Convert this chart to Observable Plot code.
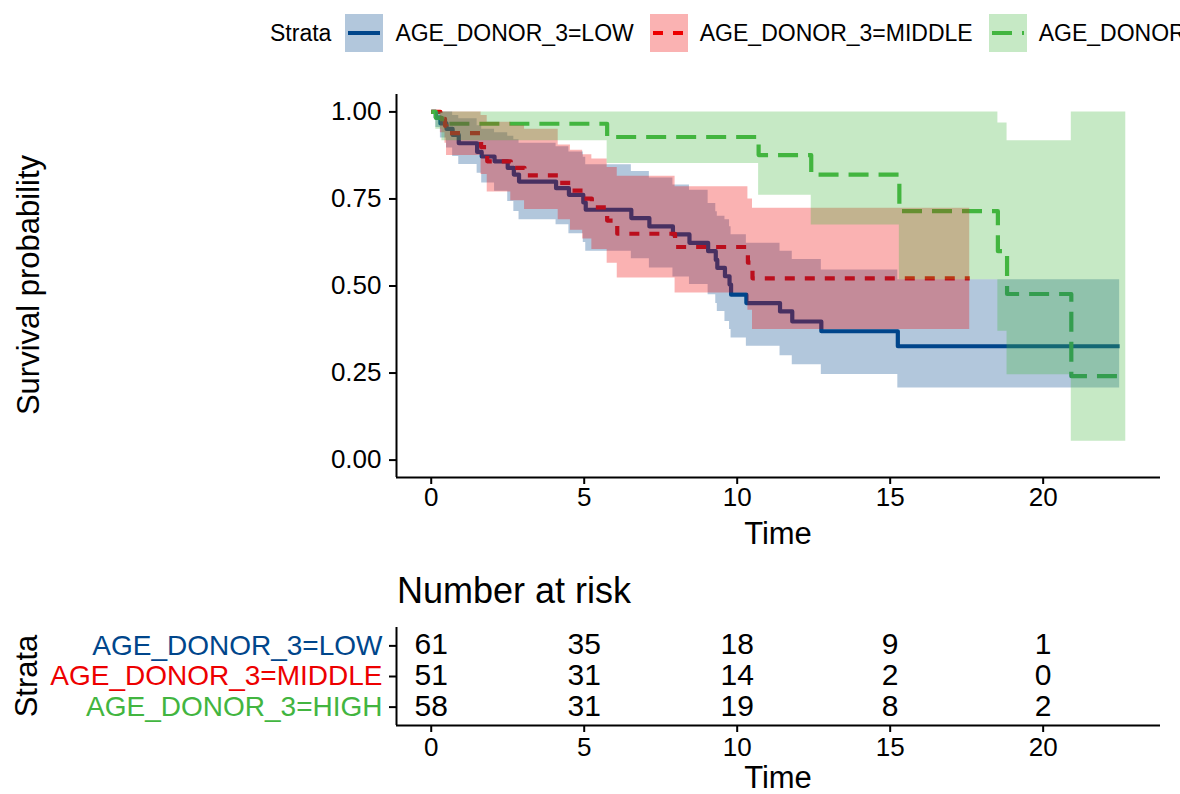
<!DOCTYPE html>
<html>
<head>
<meta charset="utf-8">
<script src="https://cdn.jsdelivr.net/npm/d3@7"></script>
<script src="https://cdn.jsdelivr.net/npm/@observablehq/plot@0.6"></script>
<style>
  html, body { margin: 0; padding: 0; background: white; }
  #root { position: relative; width: 1180px; height: 794px; overflow: hidden; background: white;
          font-family: "Liberation Sans", Arial, Helvetica, sans-serif; color: black; }
  .abs { position: absolute; white-space: nowrap; line-height: 1; }
  #legend { position: absolute; left: 270px; top: 14px; height: 38px; display: flex; align-items: center; font-size: 23px; white-space: nowrap; }
  #legend svg { display: block; }
</style>
</head>
<body>
<div id="root">
  <div id="legend"></div>
  <div id="main" class="abs" style="left:0;top:70px"></div>
  <div id="table" class="abs" style="left:0;top:600px"></div>
  <div class="abs" style="left:778px;top:533px;font-size:31px;transform:translate(-50%,-50%)">Time</div>
  <div class="abs" style="left:28px;top:285px;font-size:31px;transform:translate(-50%,-50%) rotate(-90deg)">Survival probability</div>
  <div class="abs" style="left:397px;top:573px;font-size:36px">Number at risk</div>
  <div class="abs" style="left:778px;top:778px;font-size:31px;line-height:0.85;transform:translate(-50%,-50%)">Time</div>
  <div class="abs" style="left:26px;top:676px;font-size:31px;transform:translate(-50%,-50%) rotate(-90deg)">Strata</div>
</div>
<script>
// ---- data ----
const groups = ["AGE_DONOR_3=LOW", "AGE_DONOR_3=MIDDLE", "AGE_DONOR_3=HIGH"];
const colors = ["#00468B", "#ED0000", "#42B540"];
const dashes = [null, "10,10", "20,10"];

const lowTime  = [0, 0.15, 0.3, 0.5, 0.7, 0.9, 1.5, 1.65, 2.07, 2.5, 2.7, 2.87, 4.08, 4.5, 4.97, 5.05, 6.54, 7.13, 7.9, 8.44, 9.05, 9.3, 9.35, 9.6, 9.75, 9.8, 10.3, 11.4, 11.8, 12.75, 15.25, 22.5];
const lowSurv  = [1, .984, .967, .951, .934, .910, .885, .872, .858, .839, .820, .800, .781, .762, .740, .719, .695, .671, .648, .624, .600, .575, .552, .528, .504, .475, .451, .427, .398, .370, .327, .327];
const lowLower = [1, .955, .925, .896, .872, .849, .824, .796, .772, .743, .714, .690, .676, .650, .625, .600, .578, .552, .526, .504, .475, .450, .427, .398, .375, .351, .327, .300, .274, .246, .207, .207];
const lowUpper = [1, 1, 1, 1, .99, .98, .96, .95, .94, .93, .92, .91, .90, .885, .87, .848, .829, .81, .79, .775, .737, .713, .70, .69, .67, .647, .623, .60, .576, .546, .518, .518];

const midTime  = [0, 0.3, 0.45, 0.5, 1.63, 1.83, 2.6, 3.05, 4.15, 4.55, 4.95, 5.25, 5.75, 6.08, 7.97, 10.35, 10.5, 17.6];
const midSurv  = [1, .980, .960, .939, .899, .858, .839, .818, .796, .774, .751, .726, .688, .650, .612, .567, .522, .522];
const midLower = [1, .94, .91, .875, .82, .77, .745, .72, .69, .66, .635, .605, .565, .523, .48, .43, .375, .375];
const midUpper = [1, 1, 1, 1, .99, .97, .96, .95, .905, .89, .877, .865, .84, .815, .785, .75, .723, .723];

const highTime  = [0, 0.15, 0.35, 5.75, 10.7, 12.42, 15.3, 18.52, 18.82, 20.92, 22.7];
const highSurv  = [1, .983, .966, .928, .876, .820, .715, .600, .477, .241, .241];
const highLower = [1, .95, .917, .852, .761, .675, .518, .37, .245, .054, .054];
const highUpper = [1, 1, 1, 1, 1, 1, 1, .968, .917, 1, 1];

const riskTimes = [0, 5, 10, 15, 20];
const riskLow  = [61, 35, 18, 9, 1];
const riskMid  = [51, 31, 14, 2, 0];
const riskHigh = [58, 31, 19, 8, 2];

const yTicks = [0, 0.25, 0.5, 0.75, 1];

// ---- build tables ----
const mk = (T, S, L, U) => T.map((t, i) => ({time: t, surv: S[i], lower: L[i], upper: U[i]}));
const series = [
  mk(lowTime, lowSurv, lowLower, lowUpper),
  mk(midTime, midSurv, midLower, midUpper),
  mk(highTime, highSurv, highLower, highUpper)
];
const tMax = d3.max([...lowTime, ...midTime, ...highTime]);
const xDomain = [-0.05 * tMax, 1.05 * tMax];
const yDomain = [-0.05, 1.05];
const FONT = '"Liberation Sans", Arial, Helvetica, sans-serif';

// ---- legend ----
const legend = document.getElementById("legend");
legend.innerHTML = `<span style="margin-right:14px">Strata</span>` + groups.map((g, i) => `
  <svg width="38" height="38" style="margin-right:12px">
    <rect x="0" y="0" width="38" height="38" fill="${colors[i]}" fill-opacity="0.3"></rect>
    <line x1="3" x2="35" y1="19" y2="19" stroke="${colors[i]}" stroke-width="4" ${dashes[i] ? `stroke-dasharray="${dashes[i]}"` : ""}></line>
  </svg><span style="margin-right:16px">${g}</span>`).join("");

// ---- main plot ----
const lineMarks = series.map((d, i) => Plot.line(d, {
  x: "time", y: "surv", curve: "step-after", stroke: colors[i], strokeWidth: 4.2,
  strokeDasharray: dashes[i] || undefined, strokeLinecap: "butt"
}));
const areaMarks = series.map((d, i) => Plot.areaY(d, {
  x: "time", y1: "lower", y2: "upper", curve: "step-after", fill: colors[i], fillOpacity: 0.3
}));

const main = Plot.plot({
  width: 1180, height: 490,
  marginLeft: 396, marginRight: 20, marginTop: 24, marginBottom: 83,
  x: {domain: xDomain},
  y: {domain: yDomain},
  style: {fontFamily: FONT, fontSize: "26px", color: "black", background: "transparent"},
  marks: [
    ...lineMarks,
    ...areaMarks,
    Plot.ruleX([xDomain[0]], {strokeWidth: 2}),
    Plot.ruleY([yDomain[0]], {strokeWidth: 2}),
    Plot.axisX({ticks: riskTimes, tickSize: 7, tickPadding: 3, strokeWidth: 2, label: null, fontSize: 26}),
    Plot.axisY({ticks: yTicks, tickSize: 7, tickPadding: 8, strokeWidth: 2, tickFormat: d3.format(".2f"), label: null, fontSize: 26})
  ]
});
document.getElementById("main").appendChild(main);

// ---- risk table ----
const rowPos = g => groups.length - groups.indexOf(g); // LOW on top
const riskSeries = [riskLow, riskMid, riskHigh];
const riskData = [];
groups.forEach((g, gi) => riskTimes.forEach((t, ti) => riskData.push({group: g, time: t, n: riskSeries[gi][ti]})));
const tyDomain = [0.4, groups.length + 0.6];

const table = Plot.plot({
  width: 1180, height: 194,
  marginLeft: 396, marginRight: 20, marginTop: 27, marginBottom: 69,
  x: {domain: xDomain},
  y: {domain: tyDomain},
  style: {fontFamily: FONT, fontSize: "26px", color: "black", background: "transparent"},
  marks: [
    Plot.text(riskData, {x: "time", y: d => rowPos(d.group), text: "n", fontSize: 30, dy: -1}),
    ...groups.map((g, i) => Plot.text([g], {y: d => rowPos(d), text: d => d, frameAnchor: "left", dx: -14, textAnchor: "end", fill: colors[i], fontSize: 28})),
    Plot.ruleX([xDomain[0]], {strokeWidth: 2}),
    Plot.ruleY([tyDomain[0]], {strokeWidth: 2}),
    Plot.axisX({ticks: riskTimes, tickSize: 7, tickPadding: 5, strokeWidth: 2, label: null, fontSize: 26}),
    Plot.axisY({ticks: groups.map(rowPos), tickSize: 7, strokeWidth: 2, tickFormat: () => "", label: null})
  ]
});
document.getElementById("table").appendChild(table);
</script>
</body>
</html>
